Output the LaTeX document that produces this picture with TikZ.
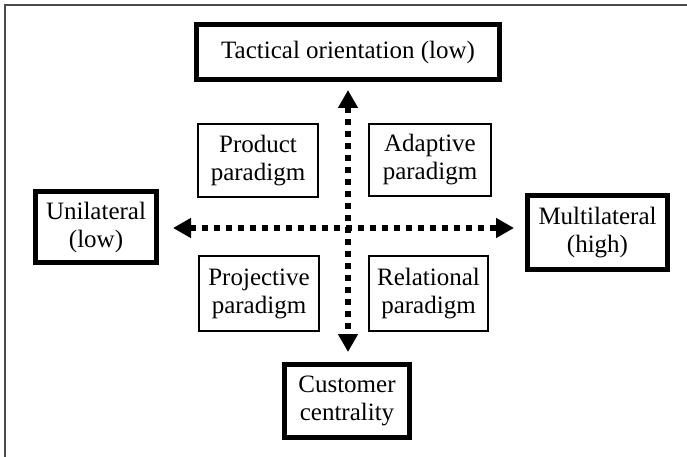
\documentclass[tikz,border=0pt]{standalone}
\usepackage{fontspec}
\setmainfont{Liberation Serif}
\usetikzlibrary{arrows.meta}
\begin{document}
\begin{tikzpicture}[x=1pt,y=-1pt,
  every node/.style={font=\fontsize{25}{28}\selectfont, align=center, inner sep=0pt},
  thickbox/.style={draw=black, line width=5pt},
  thinbox/.style={draw=black, line width=1.4pt},
  axisboth/.style={line width=5.5pt, dash pattern=on 6pt off 6pt, {Triangle[length=18pt,width=19pt]}-{Triangle[length=18pt,width=19pt]}}
]
\useasboundingbox (0,0) rectangle (687,457);
\draw[line width=1.5pt, draw=black!70] (5,457) -- (5,5) -- (687,5);

\node[thickbox, minimum width=303pt, minimum height=55pt] (top) at (348,52) {Tactical orientation (low)};
\node[thickbox, minimum width=121pt, minimum height=71pt] (uni) at (96,227) {Unilateral\\(low)};
\node[thickbox, minimum width=140pt, minimum height=74pt] (multi) at (597.5,232.5) {Multilateral\\(high)};
\node[thickbox, minimum width=125pt, minimum height=73pt] (cust) at (347,401) {Customer\\centrality};

\node[thinbox, minimum width=120pt, minimum height=73pt] (prod) at (258,160.5) {Product\\paradigm};
\node[thinbox, minimum width=122pt, minimum height=72pt] (adap) at (430,160) {Adaptive\\paradigm};
\node[thinbox, minimum width=120pt, minimum height=75pt] (proj) at (259,293.5) {Projective\\paradigm};
\node[thinbox, minimum width=119pt, minimum height=75pt] (rel) at (428.5,293.5) {Relational\\paradigm};

\draw[axisboth, shorten <=14pt, shorten >=11pt] ([yshift=-1pt]uni.east) -- ([yshift=-1pt]uni.east -| multi.west);
\draw[axisboth, shorten <=8pt, shorten >=10pt] (top.south) -- (top.south |- cust.north);
\end{tikzpicture}
\end{document}
